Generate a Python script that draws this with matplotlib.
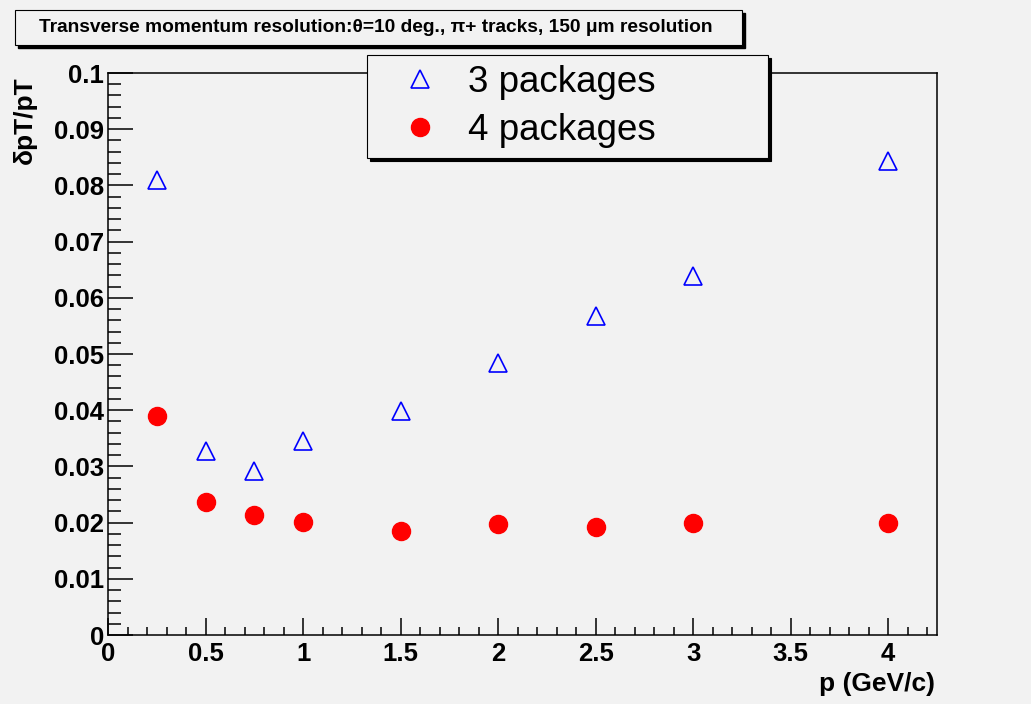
import matplotlib
matplotlib.use("Agg")
import matplotlib.pyplot as plt
from matplotlib.patches import Rectangle
from matplotlib.ticker import MultipleLocator, FuncFormatter

p = [0.25, 0.5, 0.75, 1.0, 1.5, 2.0, 2.5, 3.0, 4.0]
res3 = [0.0810, 0.0327, 0.0292, 0.0345, 0.0399, 0.0484, 0.0568, 0.0639, 0.0843]
res4 = [0.0390, 0.0237, 0.0214, 0.0201, 0.0185, 0.0198, 0.0192, 0.0199, 0.0199]
labels = ["3 packages", "4 packages"]
title = "Transverse momentum resolution:\u03b8=10 deg., \u03c0+ tracks, 150 \u03bcm resolution"

bg = "#f2f2f2"
plt.rcParams["font.family"] = ["Liberation Sans", "DejaVu Sans"]

fig = plt.figure(figsize=(10.31, 7.04), dpi=100, facecolor=bg)
ax = fig.add_axes([0.1048, 0.098, 0.804, 0.7983], facecolor=bg)

ax.plot(p, res3, linestyle="none", marker="^", ms=13, mfc="none", mec="blue", mew=1.2, label=labels[0])
ax.plot(p, res4, linestyle="none", marker="o", ms=13, mfc="red", mec="red", label=labels[1])

ax.set_xlim(0, 4.25)
ax.set_ylim(0, 0.1)
ax.xaxis.set_major_locator(MultipleLocator(0.5))
ax.xaxis.set_minor_locator(MultipleLocator(0.1))
ax.yaxis.set_major_locator(MultipleLocator(0.01))
ax.yaxis.set_minor_locator(MultipleLocator(0.002))
ax.xaxis.set_major_formatter(FuncFormatter(lambda v, pos: "%g" % round(v, 3)))
ax.yaxis.set_major_formatter(FuncFormatter(lambda v, pos: "%g" % round(v, 3)))

ax.tick_params(which="both", direction="in", top=False, right=False, width=1.1, colors="black")
ax.tick_params(axis="x", which="major", length=12, pad=5, labelsize=18.5)
ax.tick_params(axis="x", which="minor", length=6)
ax.tick_params(axis="y", which="major", length=18, pad=3, labelsize=18.5)
ax.tick_params(axis="y", which="minor", length=9)
for lab in ax.get_xticklabels() + ax.get_yticklabels():
    lab.set_fontweight("bold")
for s in ax.spines.values():
    s.set_linewidth(1.1)

fig.text(25 / 1031, 1 - 76 / 704, "\u03b4pT/pT", rotation=90, ha="center", va="top",
         fontsize=19, fontweight="bold")
fig.text(935 / 1031, 1 - 684 / 704, "p (GeV/c)", ha="right", va="center",
         fontsize=19, fontweight="bold")

# title box with shadow
fig.patches.append(Rectangle((18 / 1031, 1 - 48 / 704), 727 / 1031, 35 / 704,
                             transform=fig.transFigure, facecolor="black", edgecolor="black"))
fig.patches.append(Rectangle((15 / 1031, 1 - 45 / 704), 727 / 1031, 35 / 704,
                             transform=fig.transFigure, facecolor=bg, edgecolor="black", lw=0.8))
fig.text(376 / 1031, 1 - 27 / 704, title, ha="center", va="center", fontsize=13.8, fontweight="bold")

leg = ax.legend(loc="upper left", bbox_to_anchor=(367 / 1031, 1 - 155 / 704, 401 / 1031, 100 / 704),
                bbox_transform=fig.transFigure, mode="expand", borderaxespad=0,
                fontsize=26.5, handlelength=2.3, handletextpad=0.17, borderpad=0.28,
                labelspacing=0.34, fancybox=False, framealpha=1, edgecolor="black",
                facecolor=bg, shadow={"color": "black", "alpha": 1})
leg.get_frame().set_linewidth(0.8)

fig.savefig("out.png", dpi=100, facecolor=bg)
